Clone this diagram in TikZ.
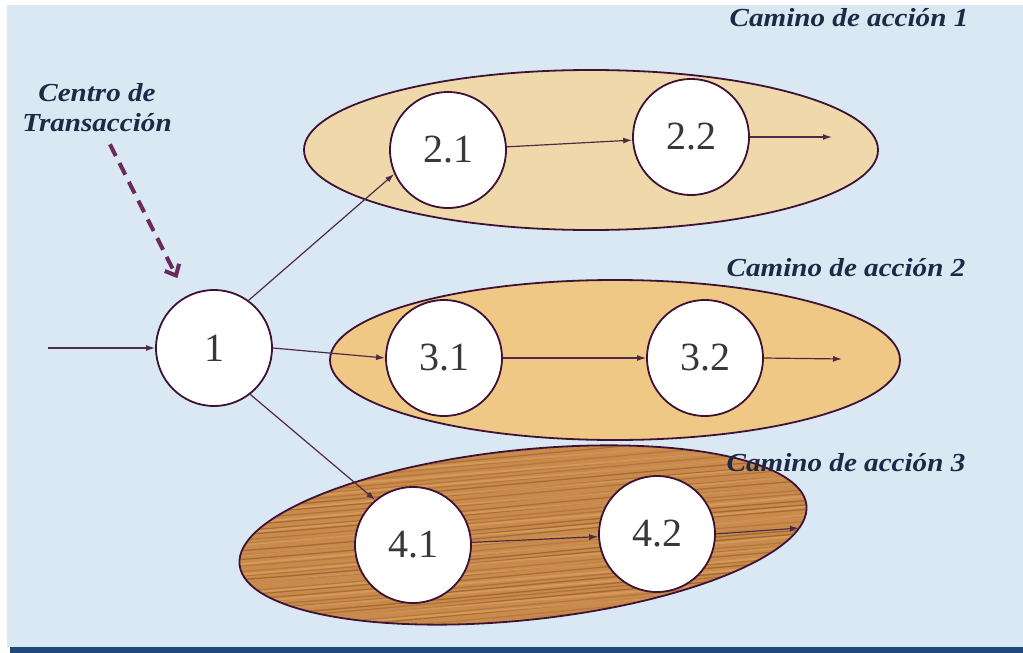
\documentclass[tikz,border=0pt]{standalone}
\usepackage{fontspec}
\setmainfont{Liberation Serif}
\newfontfamily\labelfont[FakeStretch=1.12]{Liberation Serif}
\usetikzlibrary{arrows.meta}

\definecolor{sky}{HTML}{DAE8F3}
\definecolor{barblue}{HTML}{1F4A78}
\definecolor{rim}{HTML}{3E1236}
\definecolor{wire}{HTML}{4E2A48}
\definecolor{tanA}{HTML}{EFD9AA}
\definecolor{tanB}{HTML}{EFC886}
\definecolor{wood}{HTML}{C98A4B}
\definecolor{woodDark}{HTML}{8A5524}
\definecolor{woodLight}{HTML}{E3AE6E}
\definecolor{ink}{HTML}{1E2A45}
\definecolor{numgray}{HTML}{383838}
\definecolor{dashcol}{HTML}{6A2A5E}

\tikzset{
  state/.style={circle, draw=rim, line width=1.8pt, fill=white,
    minimum size=116pt, inner sep=0pt, font=\fontsize{40}{40}\selectfont,
    text=numgray},
  pathbox/.style={draw=rim, line width=1.8pt},
  flow/.style={draw=wire, line width=1.2pt, -{Latex[length=9pt,width=6pt]}},
  pathlabel/.style={font=\labelfont\bfseries\itshape\fontsize{26}{30}\selectfont,
    text=ink, inner sep=0pt},
}

\begin{document}
\begin{tikzpicture}[x=1pt,y=-1pt]
\useasboundingbox (0,0) rectangle (1023,653);
% backdrop and bottom rule
\fill[white] (0,0) rectangle (1023,653);
\fill[sky] (7,5) rectangle (1023,647);
\fill[barblue] (10,647) rectangle (1023,653);

% the three action paths
\fill[tanA] (591,150) ellipse [x radius=287, y radius=80];
\fill[tanB] (615,360) ellipse [x radius=285, y radius=80];
\fill[wood, rotate around={6:(523,535)}] (523,535) ellipse [x radius=285, y radius=85];

% wood grain on the third path
\begin{scope}
  \clip[rotate around={6:(523,535)}] (523,535) ellipse [x radius=284, y radius=84];
  \pgfmathsetseed{7}
  \foreach \k in {0,...,44} {
    \pgfmathsetmacro\yy{425+5*\k+2*rand}
    \pgfmathsetmacro\op{0.25+0.4*rnd}
    \draw[woodDark, opacity=\op, line width=1.3pt, rotate around={5:(523,535)}]
      (220,\yy) .. controls (400,\yy+3) and (620,\yy-3) .. (830,\yy);
  }
  \foreach \k in {0,...,20} {
    \pgfmathsetmacro\yy{430+10*\k+3*rand}
    \draw[woodLight, opacity=0.45, line width=2pt, rotate around={5:(523,535)}]
      (220,\yy) .. controls (420,\yy-2) and (640,\yy+3) .. (830,\yy);
  }
\end{scope}

\draw[pathbox] (591,150) ellipse [x radius=287, y radius=80];
\draw[pathbox] (615,360) ellipse [x radius=285, y radius=80];
\draw[pathbox, rotate around={6:(523,535)}] (523,535) ellipse [x radius=285, y radius=85];

% states
\node[state] (n1)  at (214,348) {1};
\node[state] (n21) at (448,150) {2.1};
\node[state] (n22) at (691,137) {2.2};
\node[state] (n31) at (444,358) {3.1};
\node[state] (n32) at (705,358) {3.2};
\node[state] (n41) at (413,545) {4.1};
\node[state] (n42) at (657,534) {4.2};

% free ends
\coordinate (in) at (48,348);
\coordinate (o2) at (832,137);
\coordinate (o3) at (842,359);
\coordinate (o4) at (799,528);

% transitions
\draw[flow] (in) -- (n1);
\draw[flow] (n1.54) -- (n21.204);
\draw[flow] (n1.east) -- (n31.west);
\draw[flow] (n1.308) -- (n41.130);
\draw[flow] (n21) -- (n22);
\draw[flow] (n22.east) -- (o2);
\draw[flow] (n31) -- (n32);
\draw[flow] (n32.east) -- (o3);
\draw[flow] (n41) -- (n42);
\draw[flow] (n42.east) -- (o4);

% labels
\node[pathlabel] (l1) at (849,18) {Camino de acción 1};
\node[pathlabel] (l2) at (846,268) {Camino de acción 2};
\node[pathlabel] (l3) at (846,463) {Camino de acción 3};
\node[pathlabel, align=center] (tc) at (97,108) {Centro de\\Transacción};

% transaction centre pointer
\draw[dashcol, line width=4pt, dash pattern=on 13pt off 8pt,
      -{Straight Barb[length=9pt,width=16pt]}, shorten >=20pt]
  ([xshift=13pt,yshift=-12pt]tc.south) -- (n1.118);
\end{tikzpicture}
\end{document}
